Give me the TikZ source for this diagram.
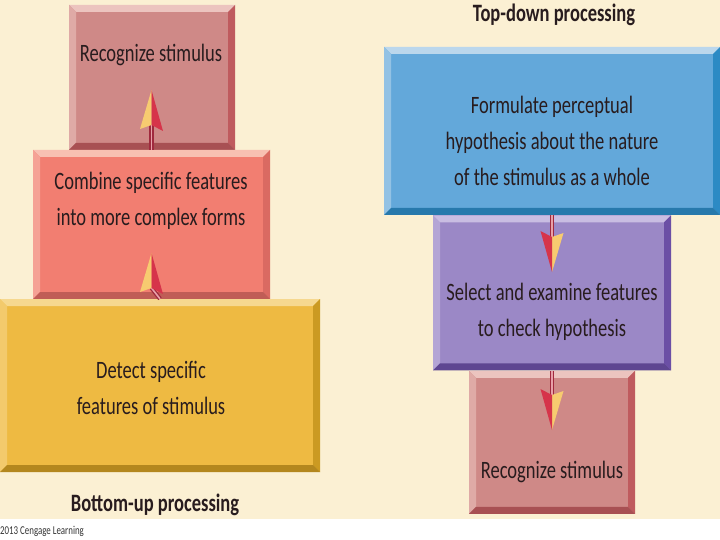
\documentclass[tikz,border=0pt]{standalone}
\usepackage{fontspec}
\setmainfont{Carlito}[FakeStretch=0.74]
\usepackage{tikz}
\usetikzlibrary{positioning}
\definecolor{bgcream}{RGB}{251,240,211}
\definecolor{txtdark}{RGB}{40,28,30}
\definecolor{rosefc}{RGB}{207,137,135}
\definecolor{roselt}{RGB}{236,196,191}
\definecolor{rosedk}{RGB}{191,91,94}
\definecolor{salmfc}{RGB}{242,126,113}
\definecolor{salmlt}{RGB}{248,192,178}
\definecolor{salmdk}{RGB}{218,106,98}
\definecolor{goldfc}{RGB}{238,186,66}
\definecolor{goldlt}{RGB}{246,216,143}
\definecolor{golddk}{RGB}{203,154,34}
\definecolor{bluefc}{RGB}{99,168,218}
\definecolor{bluelt}{RGB}{187,215,236}
\definecolor{bluedk}{RGB}{44,138,196}
\definecolor{purpfc}{RGB}{155,136,198}
\definecolor{purplt}{RGB}{201,189,226}
\definecolor{purpdk}{RGB}{107,79,165}
\definecolor{shaftdk}{RGB}{160,42,62}
\definecolor{shaftlt}{RGB}{232,160,168}
\definecolor{headyl}{RGB}{247,203,112}
\definecolor{headrd}{RGB}{214,52,74}
\newcommand\bvw{7pt}
\newcommand\bevels[3]{%
  \coordinate (bvnw) at (path picture bounding box.north west);
  \coordinate (bvne) at (path picture bounding box.north east);
  \coordinate (bvsw) at (path picture bounding box.south west);
  \coordinate (bvse) at (path picture bounding box.south east);
  \fill[#1] (bvnw) -- (bvne) -- ([shift={(-\bvw,-\bvw)}]bvne) -- ([shift={(\bvw,-\bvw)}]bvnw) -- cycle;
  \fill[#1!55!#3] (bvnw) -- ([shift={(\bvw,-\bvw)}]bvnw) -- ([shift={(\bvw,\bvw)}]bvsw) -- (bvsw) -- cycle;
  \fill[#2] (bvne) -- (bvse) -- ([shift={(-\bvw,\bvw)}]bvse) -- ([shift={(-\bvw,-\bvw)}]bvne) -- cycle;
  \fill[#2!88!black] (bvsw) -- (bvse) -- ([shift={(-\bvw,\bvw)}]bvse) -- ([shift={(\bvw,\bvw)}]bvsw) -- cycle;
}
\tikzset{
  bevbox/.style n args={3}{
    fill=#1, inner sep=0pt, path picture={\bevels{#2}{#3}{#1}}
  },
  rosebox/.style={bevbox={rosefc}{roselt}{rosedk}},
  salmbox/.style={bevbox={salmfc}{salmlt}{salmdk}},
  goldbox/.style={bevbox={goldfc}{goldlt}{golddk}},
  bluebox/.style={bevbox={bluefc}{bluelt}{bluedk}},
  purpbox/.style={bevbox={purpfc}{purplt}{purpdk}},
  lbl/.style={font=\fontsize{25}{36}\selectfont, text=txtdark, align=center, inner sep=0pt},
  ttl/.style={font=\bfseries\fontsize{25}{30}\selectfont, text=txtdark, inner sep=0pt},
  cred/.style={font=\fontsize{12}{14}\selectfont, text=black!80, inner sep=0pt},
  shaft/.style={draw=shaftdk, line width=1.3pt, double=shaftlt, double distance=1.6pt},
  arrowhead/.pic={
    \fill[headyl] (0,-35) -- (-11.5,4) -- (0,0) -- cycle;
    \fill[headrd] (0,-35) -- (0,0) -- (11.5,6) -- cycle;
  }
}
\begin{document}
\begin{tikzpicture}[x=1pt, y=-1pt]
  \useasboundingbox (0,0) rectangle (720,540);
  \fill[bgcream] (0,0) rectangle (720,519);
  % bottom-up
  \node[rosebox, minimum width=166pt, minimum height=145pt] (bu3) at (152,77.5) {};
  \node[salmbox, minimum width=237pt, minimum height=149pt] (bu2) at (151.5,224.5) {};
  \node[goldbox, minimum width=320pt, minimum height=173pt] (bu1) at (160,385.5) {};
  \node[lbl] (bu3t) at (151,55) {Recognize stimulus};
  \node[lbl] (bu2t) at (151,201) {Combine specific features\\into more complex forms};
  \node[lbl] (bu1t) at (151,388) {Detect specific\\features of stimulus};
  \node[ttl] (buttl) at (155,505) {Bottom-up processing};
  \node[cred, anchor=west] (cred) at (0,531) {2013 Cengage Learning};
  % top-down
  \node[bluebox, minimum width=336pt, minimum height=168pt] (td1) at (552,131) {};
  \node[purpbox, minimum width=238pt, minimum height=155pt, below=0pt of td1] (td2) {};
  \node[rosebox, minimum width=166pt, minimum height=143pt, below=0pt of td2] (td3) {};
  \node[lbl] (td1t) at (552,141) {Formulate perceptual\\hypothesis about the nature\\of the stimulus as a whole};
  \node[lbl] (td2t) at (552,312) {Select and examine features\\to check hypothesis};
  \node[lbl] (td3t) at (552,472) {Recognize stimulus};
  \node[ttl] (tdttl) at (554,15) {Top-down processing};
  % arrows
  \coordinate (upa) at (151.5,125);
  \coordinate (upb) at (151.5,288);
  \coordinate (dna) at (552,237);
  \coordinate (dnb) at (552,395);
  \draw[shaft] (bu2.north) -- (upa);
  \draw[shaft] (bu1.north) -- (upb);
  \draw[shaft] (td1.south) -- (dna);
  \draw[shaft] (td2.south) -- (dnb);
  \pic at (upa) {arrowhead};
  \pic at (upb) {arrowhead};
  \pic[rotate=180] at (dna) {arrowhead};
  \pic[rotate=180] at (dnb) {arrowhead};
\end{tikzpicture}
\end{document}
